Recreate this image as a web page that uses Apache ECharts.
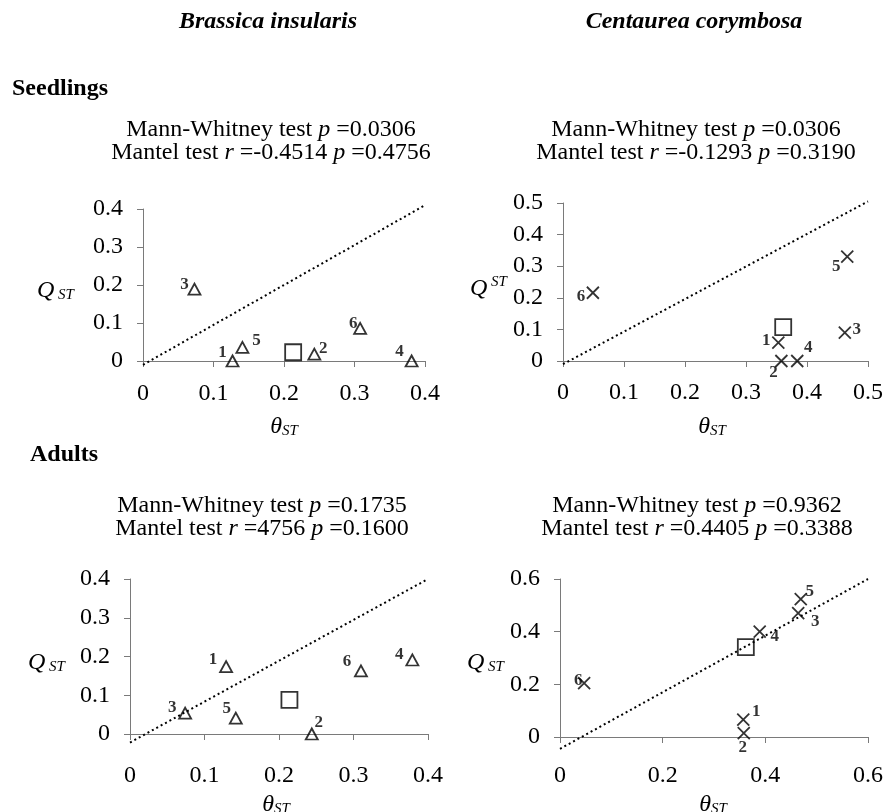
<!DOCTYPE html>
<html>
<head>
<meta charset="utf-8">
<script src="https://cdn.jsdelivr.net/npm/echarts@6/dist/echarts.min.js"></script>
<style>
html,body{margin:0;padding:0;background:#fff;}
#chart{width:885px;height:812px;}
</style>
</head>
<body>
<div id="chart"></div>
<script>
// ---------- data ----------
const pops = ['1', '2', '3', '4', '5', '6'];

// Brassica insularis – seedlings
const bSeedTheta = [0.127, 0.243, 0.073, 0.381, 0.141, 0.308];
const bSeedQst   = [0.000, 0.018, 0.189, 0.000, 0.036, 0.086];
const bSeedMean  = [0.213, 0.023];
const bSeedLine  = [[0, -0.01], [0.4, 0.41]];

// Centaurea corymbosa – seedlings
const cSeedTheta = [0.353, 0.358, 0.462, 0.384, 0.466, 0.049];
const cSeedQst   = [0.058, 0.000, 0.090, 0.000, 0.330, 0.216];
const cSeedMean  = [0.361, 0.107];
const cSeedLine  = [[0, -0.01], [0.5, 0.505]];

// Brassica insularis – adults
const bAdultTheta = [0.129, 0.244, 0.074, 0.379, 0.142, 0.310];
const bAdultQst   = [0.174, 0.000, 0.054, 0.191, 0.041, 0.163];
const bAdultMean  = [0.214, 0.088];
const bAdultLine  = [[0, -0.022], [0.4, 0.4]];

// Centaurea corymbosa – adults
const cAdultTheta = [0.357, 0.358, 0.464, 0.389, 0.469, 0.047];
const cAdultQst   = [0.066, 0.015, 0.470, 0.400, 0.524, 0.205];
const cAdultMean  = [0.362, 0.341];
const cAdultLine  = [[0, -0.045], [0.6, 0.6]];

// axis ranges / ticks
const bAxisMax = 0.4, bAxisStep = 0.1;
const cSeedAxisMax = 0.5, cSeedAxisStep = 0.1;
const cAdultAxisMax = 0.6, cAdultAxisStep = 0.2;

// text
const speciesB = 'Brassica insularis';
const speciesC = 'Centaurea corymbosa';
const stageSeed = 'Seedlings';
const stageAdult = 'Adults';
const testsBSeed  = ['0.0306', '-0.4514', '0.4756'];
const testsCSeed  = ['0.0306', '-0.1293', '0.3190'];
const testsBAdult = ['0.1735', '4756', '0.1600'];
const testsCAdult = ['0.9362', '0.4405', '0.3388'];

// ---------- label placement (style, not data) ----------
const offBSeed  = [[-10,-8],[9,-6],[-10,-5],[-12,-9],[14,-7],[-7,-5]];
const offCSeed  = [[-12,-2],[-8,12],[12,-3],[11,-13],[-11,10],[-12,4]];
const offBAdult = [[-13,-7],[7,-11],[-13,-5],[-13,-5],[-9,-10],[-14,-9]];
const offCAdult = [[13,-8],[-1,15],[17,8],[15,5],[9,-7],[-6,-2]];

// ---------- build ----------
const FONT = 'Liberation Serif, Times New Roman, serif';
const AXIS_COLOR = '#7a7a7a';

const grids = [
  {left: 143, top: 209, width: 282, height: 152},
  {left: 563, top: 203, width: 305, height: 158},
  {left: 130, top: 579, width: 298, height: 155},
  {left: 560, top: 579, width: 308, height: 158}
];
const ranges = [
  [bAxisMax, bAxisStep, 21],
  [cSeedAxisMax, cSeedAxisStep, 20],
  [bAxisMax, bAxisStep, 30],
  [cAdultAxisMax, cAdultAxisStep, 27]
];

function axisBase(gi, max, step, margin) {
  return {
    gridIndex: gi, type: 'value', min: 0, max: max, interval: step,
    axisLine: {show: true, onZero: false, lineStyle: {color: AXIS_COLOR, width: 1}},
    axisTick: {show: true, length: 6, lineStyle: {color: AXIS_COLOR}},
    splitLine: {show: false},
    axisLabel: {color: '#000', fontFamily: FONT, fontSize: 24, margin: margin}
  };
}

const xAxes = ranges.map((r, i) => axisBase(i, r[0], r[1], r[2]));
const yAxes = ranges.map((r, i) => axisBase(i, r[0], r[1], 20));

const crossPath = 'path://M0,0L10,10M10,0L0,10';

function popSeries(gi, theta, qst, offsets, symbol, size) {
  return {
    type: 'scatter', xAxisIndex: gi, yAxisIndex: gi,
    symbol: symbol, symbolSize: size,
    itemStyle: {color: 'rgba(0,0,0,0)', borderColor: '#000', borderWidth: 1.8},
    data: theta.map((t, i) => ({
      name: pops[i], value: [t, qst[i]],
      label: {show: true, position: 'inside', offset: offsets[i], formatter: pops[i],
        color: '#000', fontFamily: FONT, fontWeight: 'bold', fontSize: 17}
    })),
    z: 3
  };
}
function meanSeries(gi, mean) {
  return {
    type: 'scatter', xAxisIndex: gi, yAxisIndex: gi,
    symbol: 'rect', symbolSize: 16,
    itemStyle: {color: 'rgba(0,0,0,0)', borderColor: '#000', borderWidth: 1.8},
    data: [mean], z: 4
  };
}
function refLine(gi, pts) {
  return {
    type: 'line', xAxisIndex: gi, yAxisIndex: gi, data: pts,
    symbol: 'none', clip: false, silent: true,
    lineStyle: {color: '#000', width: 2, type: [2, 3]}, z: 2
  };
}

const series = [
  refLine(0, bSeedLine), popSeries(0, bSeedTheta, bSeedQst, offBSeed, 'triangle', [12, 11]), meanSeries(0, bSeedMean),
  refLine(1, cSeedLine), popSeries(1, cSeedTheta, cSeedQst, offCSeed, crossPath, 12), meanSeries(1, cSeedMean),
  refLine(2, bAdultLine), popSeries(2, bAdultTheta, bAdultQst, offBAdult, 'triangle', [12, 11]), meanSeries(2, bAdultMean),
  refLine(3, cAdultLine), popSeries(3, cAdultTheta, cAdultQst, offCAdult, crossPath, 12), meanSeries(3, cAdultMean)
];

// ---------- text graphics ----------
const rich = {
  i: {fontFamily: FONT, fontStyle: 'italic', fontSize: 24, fill: '#000', lineHeight: 23},
  n: {fontFamily: FONT, fontSize: 24, fill: '#000', lineHeight: 23}
};
function testsText(cx, cy, t) {
  return {
    type: 'text', x: cx, y: cy, silent: true,
    style: {
      text: '{n|Mann-Whitney test }{i|p}{n| =' + t[0] + '}\n{n|Mantel test }{i|r}{n| =' + t[1] + ' }{i|p}{n| =' + t[2] + '}',
      align: 'center', verticalAlign: 'middle', rich: rich, fill: '#000'
    }
  };
}
function plainText(x, y, txt, align, style) {
  return {
    type: 'text', x: x, y: y, silent: true,
    style: Object.assign({text: txt, align: align, verticalAlign: 'middle', fill: '#000',
      fontFamily: FONT, fontSize: 24}, style || {})
  };
}
const symRich = {
  q: {fontFamily: FONT, fontStyle: 'italic', fontSize: 24, fill: '#000', verticalAlign: 'bottom', lineHeight: 26},
  s: {fontFamily: FONT, fontStyle: 'italic', fontSize: 15, fill: '#000', verticalAlign: 'bottom', lineHeight: 20},
  u: {fontFamily: FONT, fontStyle: 'italic', fontSize: 15, fill: '#000', verticalAlign: 'top', lineHeight: 20}
};
function qLabel(x, y, raised) {
  return {type: 'text', x: x, y: y, silent: true,
    style: {text: '{q|Q}{' + (raised ? 'u' : 's') + '| ST}', align: 'left', verticalAlign: 'middle', rich: symRich}};
}
function tLabel(cx, y) {
  return {type: 'text', x: cx, y: y, silent: true,
    style: {text: '{q|θ}{s|ST}', align: 'center', verticalAlign: 'middle', rich: symRich}};
}

const graphics = [
  plainText(268, 22, speciesB, 'center', {fontWeight: 'bold', fontStyle: 'italic'}),
  plainText(694, 22, speciesC, 'center', {fontWeight: 'bold', fontStyle: 'italic'}),
  plainText(12, 89, stageSeed, 'left', {fontWeight: 'bold'}),
  plainText(30, 455, stageAdult, 'left', {fontWeight: 'bold'}),
  testsText(271, 141, testsBSeed),
  testsText(696, 141, testsCSeed),
  testsText(262, 517, testsBAdult),
  testsText(697, 517, testsCAdult),
  qLabel(37, 290, false),
  qLabel(470, 288, true),
  qLabel(28, 662, false),
  qLabel(467, 662, false),
  tLabel(284, 426),
  tLabel(712, 426),
  tLabel(276, 804),
  tLabel(713, 804)
];

const chart = echarts.init(document.getElementById('chart'), null, {renderer: 'canvas'});
chart.setOption({
  backgroundColor: '#fff',
  animation: false,
  grid: grids.map(g => Object.assign({containLabel: false, outerBoundsMode: 'none'}, g)),
  xAxis: xAxes,
  yAxis: yAxes,
  series: series,
  graphic: graphics
});
</script>
</body>
</html>
